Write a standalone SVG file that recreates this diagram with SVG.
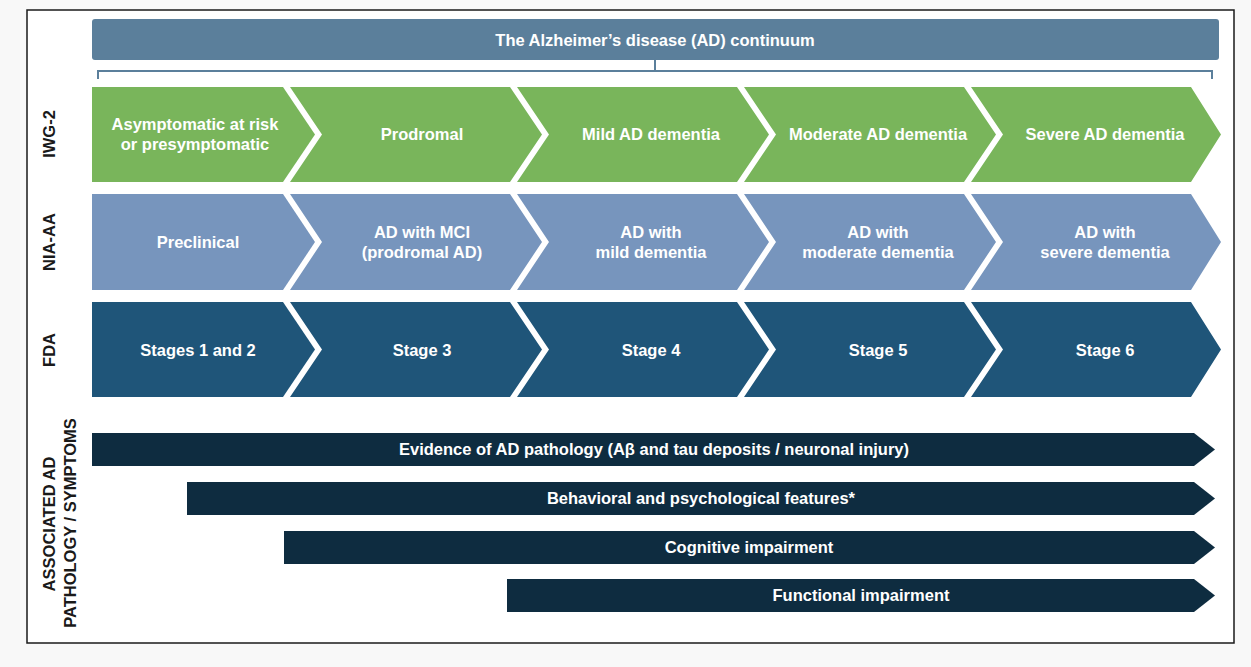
<svg xmlns="http://www.w3.org/2000/svg" width="1251" height="667" viewBox="0 0 1251 667">
<style>
text{font-family:"Liberation Sans",Arial,sans-serif;font-weight:bold;}
.w{fill:#ffffff;font-size:16.5px;text-anchor:middle;}
.lab{fill:#1a1a1a;font-size:16.5px;text-anchor:middle;}
.g{fill:#79b55b;}
.n{fill:#7795bd;}
.f{fill:#1f5579;}
.a{fill:#0e2c40;}
</style>
<rect x="0" y="0" width="1251" height="667" fill="#f8f8f8"/>
<rect x="27" y="10" width="1207" height="633" fill="#ffffff" stroke="#1a1a1a" stroke-width="1.5"/>
<g id="header">
<rect x="92" y="19" width="1127" height="41" rx="3" fill="#5b7f9b"/>
<text class="w" x="655" y="45.5">The Alzheimer’s disease (AD) continuum</text>
</g>
<g id="connectors" fill="none" stroke="#5b7f9b" stroke-width="2">
<path d="M98,79 V71 H1212 V79"/>
<path d="M655,60 V71"/>
</g>
<g id="labels">
<text class="lab" transform="translate(55,134) rotate(-90)">IWG-2</text>
<text class="lab" transform="translate(55,242) rotate(-90)">NIA-AA</text>
<text class="lab" transform="translate(55,350) rotate(-90)">FDA</text>
<text class="lab" transform="translate(55,524) rotate(-90)">ASSOCIATED AD</text>
<text class="lab" transform="translate(76,523) rotate(-90)">PATHOLOGY / SYMPTOMS</text>
</g>
<g id="iwg2">
<g id="iwg2-1"><polygon class="g" points="92,87 283,87 315,134.5 283,182 92,182"/>
<text class="w" x="195" y="130">Asymptomatic at risk</text><text class="w" x="195" y="150">or presymptomatic</text></g>
<g id="iwg2-2"><polygon class="g" points="290,87 510,87 542,134.5 510,182 290,182 322,134.5"/>
<text class="w" x="422" y="140">Prodromal</text></g>
<g id="iwg2-3"><polygon class="g" points="517,87 737,87 769,134.5 737,182 517,182 549,134.5"/>
<text class="w" x="651" y="140">Mild AD dementia</text></g>
<g id="iwg2-4"><polygon class="g" points="744,87 964,87 996,134.5 964,182 744,182 776,134.5"/>
<text class="w" x="878" y="140">Moderate AD dementia</text></g>
<g id="iwg2-5"><polygon class="g" points="971,87 1191,87 1221,134.5 1191,182 971,182 1003,134.5"/>
<text class="w" x="1105" y="140">Severe AD dementia</text></g>
</g>
<g id="niaaa">
<g id="niaaa-1"><polygon class="n" points="92,194 283,194 315,242 283,290 92,290"/>
<text class="w" x="198" y="248">Preclinical</text></g>
<g id="niaaa-2"><polygon class="n" points="290,194 510,194 542,242 510,290 290,290 322,242"/>
<text class="w" x="422" y="238">AD with MCI</text><text class="w" x="422" y="258">(prodromal AD)</text></g>
<g id="niaaa-3"><polygon class="n" points="517,194 737,194 769,242 737,290 517,290 549,242"/>
<text class="w" x="651" y="238">AD with</text><text class="w" x="651" y="258">mild dementia</text></g>
<g id="niaaa-4"><polygon class="n" points="744,194 964,194 996,242 964,290 744,290 776,242"/>
<text class="w" x="878" y="238">AD with</text><text class="w" x="878" y="258">moderate dementia</text></g>
<g id="niaaa-5"><polygon class="n" points="971,194 1191,194 1221,242 1191,290 971,290 1003,242"/>
<text class="w" x="1105" y="238">AD with</text><text class="w" x="1105" y="258">severe dementia</text></g>
</g>
<g id="fda">
<g id="fda-1"><polygon class="f" points="92,302 283,302 315,349.5 283,397 92,397"/>
<text class="w" x="198" y="356">Stages 1 and 2</text></g>
<g id="fda-2"><polygon class="f" points="290,302 510,302 542,349.5 510,397 290,397 322,349.5"/>
<text class="w" x="422" y="356">Stage 3</text></g>
<g id="fda-3"><polygon class="f" points="517,302 737,302 769,349.5 737,397 517,397 549,349.5"/>
<text class="w" x="651" y="356">Stage 4</text></g>
<g id="fda-4"><polygon class="f" points="744,302 964,302 996,349.5 964,397 744,397 776,349.5"/>
<text class="w" x="878" y="356">Stage 5</text></g>
<g id="fda-5"><polygon class="f" points="971,302 1191,302 1221,349.5 1191,397 971,397 1003,349.5"/>
<text class="w" x="1105" y="356">Stage 6</text></g>
</g>
<g id="symptoms">
<g id="bar-1"><polygon class="a" points="92,433 1194,433 1215,449.5 1194,466 92,466"/>
<text class="w" x="654" y="455">Evidence of AD pathology (Aβ and tau deposits / neuronal injury)</text></g>
<g id="bar-2"><polygon class="a" points="187,482 1194,482 1215,498.5 1194,515 187,515"/>
<text class="w" x="701" y="504">Behavioral and psychological features*</text></g>
<g id="bar-3"><polygon class="a" points="284,531 1194,531 1215,547.5 1194,564 284,564"/>
<text class="w" x="749" y="553">Cognitive impairment</text></g>
<g id="bar-4"><polygon class="a" points="507,579 1194,579 1215,595.5 1194,612 507,612"/>
<text class="w" x="861" y="601">Functional impairment</text></g>
</g>
</svg>
